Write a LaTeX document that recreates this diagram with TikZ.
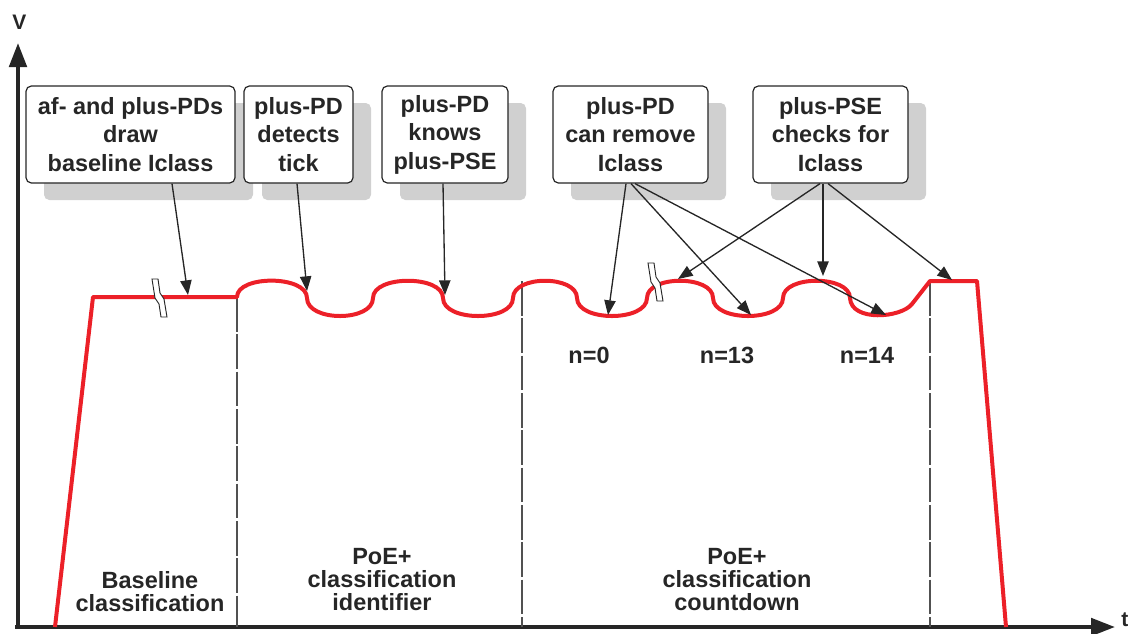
\documentclass[tikz,border=0pt]{standalone}
\usepackage{fontspec}
\setmainfont{Liberation Sans}
\usetikzlibrary{arrows.meta,shadows,calc}
\definecolor{curvered}{RGB}{236,32,40}
\definecolor{ink}{RGB}{38,38,38}
\definecolor{shadowgray}{RGB}{208,208,208}
\tikzset{
  callout/.style={draw=ink, line width=0.9pt, rounded corners=4pt, fill=white,
    minimum height=72.75pt, inner sep=0pt, align=center, text=ink,
    font=\bfseries\fontsize{17.6pt}{21.4pt}\selectfont,
    drop shadow={shadow xshift=13.5pt, shadow yshift=-12.75pt, opacity=1, fill=shadowgray}},
  phase/.style={inner sep=0pt, align=center, text=ink,
    font=\bfseries\fontsize{17.6pt}{17.25pt}\selectfont},
  nlabel/.style={inner sep=0pt, text=ink, font=\bfseries\fontsize{17.6pt}{20pt}\selectfont},
  conn/.style={draw=ink, line width=1pt, -{Triangle[length=11pt,width=8.5pt]}},
  axis/.style={draw=ink, line width=3pt, -{Triangle[length=18pt,width=13pt]}},
  divider/.style={draw=ink!80, line width=0.8pt, dash pattern=on 26pt off 2pt},
  signal/.style={draw=curvered, line width=3pt, line join=round},
  breakmark/.style={draw=ink, fill=white, line width=0.7pt}
}
\begin{document}
\begin{tikzpicture}[x=0.75pt,y=-0.75pt]
\useasboundingbox (0,0) rectangle (1130,633);

% axes
\draw[axis] (18,629) -- (18,43);
\draw[axis] (15,627) -- (1115,627);
\node[text=ink, font=\bfseries\fontsize{15.75pt}{18pt}\selectfont, inner sep=0pt] (vlab) at (19.5,22) {V};
\node[text=ink, font=\bfseries\fontsize{15.75pt}{18pt}\selectfont, inner sep=0pt, anchor=west] (tlab) at (1121,620) {t};

% dividers
\draw[divider] (237,297) -- (237,627);
\draw[divider] (522,281) -- (522,627);
\draw[divider] (930,281) -- (930,627);

% signal
\draw[signal] (55,627) -- (93,297) -- (237,297)
  .. controls (237,275) and (307,275) .. (307,298)
  .. controls (307,322) and (373,322) .. (373,298)
  .. controls (373,275) and (443,275) .. (443,298)
  .. controls (443,322) and (513,322) .. (513,298)
  .. controls (513,275) and (577,275) .. (577,298)
  .. controls (577,322) and (647,322) .. (647,298)
  .. controls (647,275) and (713,275) .. (713,298)
  .. controls (713,322) and (783,322) .. (783,298)
  .. controls (783,275) and (850,275) .. (850,298)
  .. controls (851,322) and (901,318) .. (912,304)
  -- (930,281) -- (977,281) -- (1006,627);

% break marks
\draw[breakmark] (152,279) -- ++(6,0) -- ++(2,14) -- ++(4,6) -- ++(3,18) -- ++(-6,0) -- ++(-2,-13) -- ++(-4,-6) -- cycle;
\draw[breakmark] (648,263) -- ++(6,0) -- ++(2,14) -- ++(4,6) -- ++(3,18) -- ++(-6,0) -- ++(-2,-13) -- ++(-4,-6) -- cycle;

% callouts
\node[callout, minimum width=156.75pt] (b1) at (130.5,134.5) {af- and plus-PDs\\draw\\baseline Iclass};
\node[callout, minimum width=81.75pt] (b2) at (298.5,134.5) {plus-PD\\detects\\tick};
\node[callout, minimum width=94.5pt] (b3) at (445,134.5) {plus-PD\\knows\\plus-PSE};
\node[callout, minimum width=116.25pt] (b4) at (630.5,134.5) {plus-PD\\can remove\\Iclass};
\node[callout, minimum width=116.25pt] (b5) at (830.5,134.5) {plus-PSE\\checks for\\Iclass};

% targets on the signal
\coordinate (t1) at (188,295);
\coordinate (t2) at (307,291);
\coordinate (t3) at (445,295);
\coordinate (t4a) at (608,315);
\coordinate (t4b) at (751,315);
\coordinate (t4c) at (886,315);
\coordinate (t5a) at (678,279);
\coordinate (t5b) at (823,276);
\coordinate (t5c) at (952,280);

% connectors
\draw[conn] ($(b1.south)+(41.5,0)$) -- (t1);
\draw[conn] ($(b2.south)+(-1.5,0)$) -- (t2);
\draw[conn] ($(b3.south)+(-2,0)$) -- (t3);
\draw[conn] ($(b4.south)+(-4.5,0)$) -- (t4a);
\draw[conn] ($(b4.south)+(0.5,0)$) -- (t4b);
\draw[conn] ($(b4.south)+(4.5,0)$) -- (t4c);
\draw[conn] ($(b5.south)+(-10.5,0)$) -- (t5a);
\draw[conn] ($(b5.south)+(-7.5,0)$) -- (t5b);
\draw[conn] ($(b5.south)+(-2.5,0)$) -- (t5c);

% n labels
\node[nlabel] (n0) at (589,355) {n=0};
\node[nlabel] (n13) at (727,355) {n=13};
\node[nlabel] (n14) at (867,355) {n=14};

% phase labels
\node[phase] (p1) at (150,591.5) {Baseline\\classification};
\node[phase] (p2) at (382,580) {PoE+\\classification\\identifier};
\node[phase] (p3) at (737,580) {PoE+\\classification\\countdown};
\end{tikzpicture}
\end{document}
